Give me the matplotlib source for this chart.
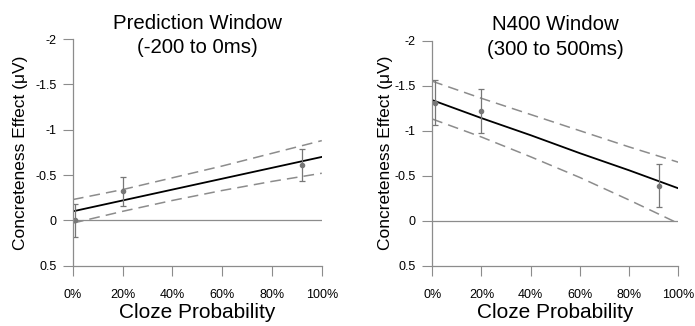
import matplotlib.pyplot as plt
from matplotlib.ticker import FixedLocator, FixedFormatter

plt.rcParams['font.family'] = ['Liberation Sans', 'DejaVu Sans']

# condition means with error bars
cloze = [0.01, 0.20, 0.92]
pred_mean = [0.00, -0.32, -0.61]
pred_err = [0.18, 0.16, 0.18]
n400_mean = [-1.31, -1.22, -0.39]
n400_err = [0.25, 0.24, 0.24]

# regression fit and confidence band, read at these cloze values
fit_x = [0.0, 0.2, 0.4, 0.6, 0.8, 1.0]
pred_fit = [-0.10, -0.22, -0.34, -0.46, -0.58, -0.70]
pred_upper = [-0.23, -0.34, -0.47, -0.60, -0.74, -0.88]
pred_lower = [0.03, -0.10, -0.22, -0.33, -0.43, -0.52]
n400_fit = [-1.34, -1.14, -0.95, -0.75, -0.56, -0.36]
n400_upper = [-1.55, -1.36, -1.18, -1.00, -0.82, -0.65]
n400_lower = [-1.13, -0.93, -0.71, -0.48, -0.23, 0.03]

titles = ['Prediction Window\n(-200 to 0ms)', 'N400 Window\n(300 to 500ms)']
xticks = [0, 0.2, 0.4, 0.6, 0.8, 1.0]
xtick_labels = ['0%', '20%', '40%', '60%', '80%', '100%']
yticks = [-2, -1.5, -1, -0.5, 0, 0.5]
ytick_labels = ['-2', '-1.5', '-1', '-0.5', '0', '0.5']

panels = [
    (pred_mean, pred_err, pred_fit, pred_upper, pred_lower),
    (n400_mean, n400_err, n400_fit, n400_upper, n400_lower),
]

fig = plt.figure(figsize=(6.95, 3.26), dpi=100)
axes = [fig.add_axes([0.105, 0.185, 0.358, 0.695]),
        fig.add_axes([0.622, 0.185, 0.354, 0.69])]
ylabel_pads = [5, 1]

gray = '#8c8c8c'
for ax, title, pad, (mean, err, fit, upper, lower) in zip(axes, titles, ylabel_pads, panels):
    ax.axhline(0, color=gray, lw=0.9, zorder=1)
    ax.plot(fit_x, upper, color=gray, lw=1.1, dashes=(7, 4))
    ax.plot(fit_x, lower, color=gray, lw=1.1, dashes=(7, 4))
    ax.plot(fit_x, fit, color='black', lw=1.3)
    ax.errorbar(cloze, mean, yerr=err, fmt='o', color='#777777', ms=3,
                elinewidth=0.9, capsize=2.5, capthick=0.9)

    ax.set_xlim(0, 1)
    ax.set_ylim(0.5, -2)
    ax.xaxis.set_major_locator(FixedLocator(xticks))
    ax.xaxis.set_major_formatter(FixedFormatter(xtick_labels))
    ax.yaxis.set_major_locator(FixedLocator(yticks))
    ax.yaxis.set_major_formatter(FixedFormatter(ytick_labels))
    ax.tick_params(length=7, width=0.8, color=gray, labelsize=9)
    ax.tick_params(axis='x', pad=10)
    ax.tick_params(axis='y', pad=5)
    for side in ['top', 'right']:
        ax.spines[side].set_visible(False)
    for side in ['left', 'bottom']:
        ax.spines[side].set_color(gray)
        ax.spines[side].set_linewidth(0.9)

    ax.set_title(title, fontsize=14.7, y=1.0, pad=-10, linespacing=1.35)
    ax.set_xlabel('Cloze Probability', fontsize=15, labelpad=1)
    ax.set_ylabel('Concreteness Effect (μV)', fontsize=12.5, labelpad=pad)

fig.savefig('out.png', dpi=100)
